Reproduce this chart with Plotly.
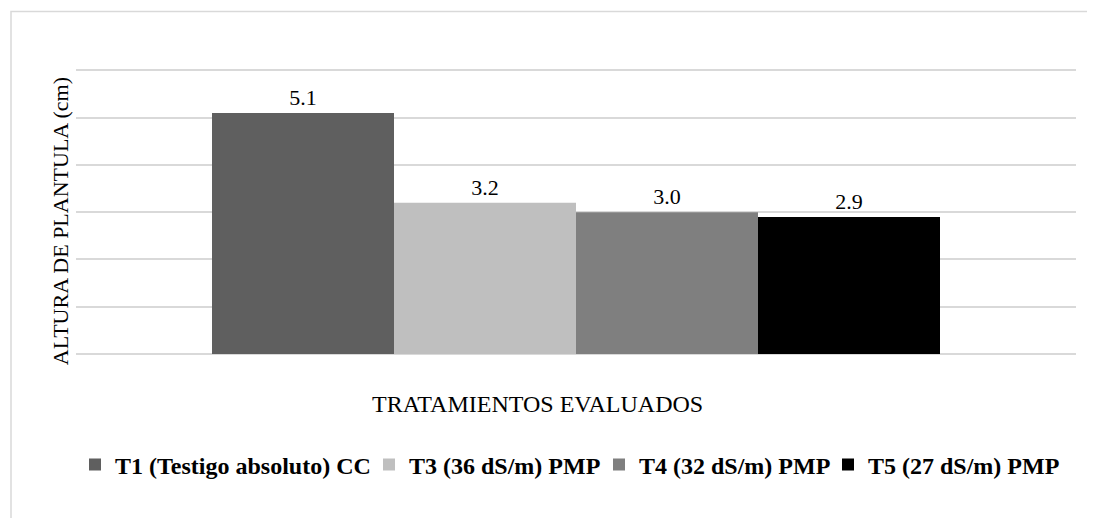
import plotly.graph_objects as go

categories = ["TRATAMIENTOS EVALUADOS"]
series_names = ["T1 (Testigo absoluto) CC", "T3 (36 dS/m) PMP", "T4 (32 dS/m) PMP", "T5 (27 dS/m) PMP"]
series_values = [5.1, 3.2, 3.0, 2.9]
series_colors = ["#5f5f5f", "#bfbfbf", "#7f7f7f", "#000000"]
y_title = "ALTURA DE PLANTULA (cm)"
x_title = "TRATAMIENTOS EVALUADOS"

FONT = "Liberation Serif"

# page has an 8px body margin: work in reference pixels and shift
OFF = 8
W, H = 1095 - OFF, 518 - OFF
YMAX = 6.05
PLOT_LEFT, PLOT_RIGHT, BASE = 76, 1076, 354
UNIT = (354 - 70) / 6.0
PLOT_TOP = BASE - UNIT * YMAX
L = PLOT_LEFT - OFF
R = W - (PLOT_RIGHT - OFF)
T = PLOT_TOP - OFF
B = H - (BASE - OFF)
PW = PLOT_RIGHT - PLOT_LEFT
PH = BASE - PLOT_TOP

def px_x(p):
    return (p - PLOT_LEFT) / PW

def px_y(p):
    return (BASE - p) / PH

legend_ids = ["legend", "legend2", "legend3", "legend4"]
legend_text_px = [115, 409, 639, 868]

fig = go.Figure()
for i, (name, val, col) in enumerate(zip(series_names, series_values, series_colors)):
    fig.add_trace(go.Bar(
        x=categories, y=[val], name="<b>" + name + "</b>",
        marker=dict(color=col, line=dict(width=0)),
        text=[f"{val:.1f}"], textposition="outside",
        textfont=dict(family=FONT, size=22, color="#000000"),
        cliponaxis=False,
        legend=legend_ids[i],
    ))

layout_legends = {}
for lid, tx in zip(legend_ids, legend_text_px):
    layout_legends[lid] = dict(
        orientation="h", x=px_x(tx - 40), xanchor="left",
        y=px_y(465), yanchor="middle",
        font=dict(family=FONT, size=24, color="#000000"),
        bgcolor="rgba(0,0,0,0)", borderwidth=0,
    )

fig.update_layout(
    width=W, height=H,
    margin=dict(l=L, r=R, t=T, b=B, pad=0),
    paper_bgcolor="#ffffff", plot_bgcolor="#ffffff",
    barmode="group", bargap=0.272, bargroupgap=0,
    showlegend=True,
    xaxis=dict(showticklabels=False, showgrid=False, zeroline=False, showline=False, ticks=""),
    yaxis=dict(range=[0, YMAX], dtick=1, showticklabels=False, ticks="",
               showgrid=True, gridcolor="#d9d9d9", gridwidth=1.5,
               zeroline=True, zerolinecolor="#d9d9d9", zerolinewidth=1.5, showline=False),
    annotations=[
        dict(text=y_title, xref="paper", yref="paper", x=px_x(60), y=px_y(221),
             xanchor="center", yanchor="middle", textangle=-90, showarrow=False,
             font=dict(family=FONT, size=22, color="#000000")),
        dict(text=x_title, xref="paper", yref="paper", x=px_x(537), y=px_y(404),
             xanchor="center", yanchor="middle", showarrow=False,
             font=dict(family=FONT, size=24, color="#000000")),
    ],
    shapes=[
        dict(type="rect", xref="paper", yref="paper",
             x0=px_x(11), x1=px_x(1140), y0=px_y(540), y1=px_y(11),
             line=dict(color="#d9d9d9", width=1.5), fillcolor="rgba(0,0,0,0)", layer="below"),
    ],
    **layout_legends,
)

fig.write_html("out.html")
